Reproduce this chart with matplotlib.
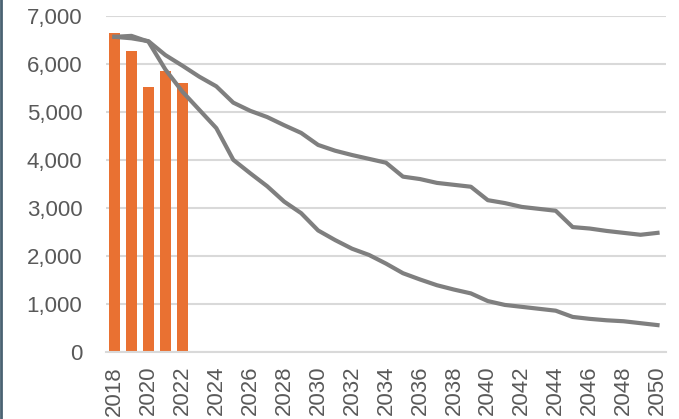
import matplotlib.pyplot as plt
from matplotlib.lines import Line2D

plt.rcParams['font.family'] = ['Liberation Sans', 'DejaVu Sans']

# categories
years = list(range(2018, 2051))

# actual values (bars)
bar_years = [2018, 2019, 2020, 2021, 2022]
bar_values = [6640, 6265, 5515, 5850, 5605]

# projection, slower decline
upper = [6560, 6530, 6470, 6180, 5960, 5730, 5530, 5190, 5020, 4890,
         4720, 4560, 4310, 4190, 4100, 4020, 3940, 3650, 3600, 3520,
         3480, 3440, 3160, 3100, 3020, 2980, 2940, 2600, 2570, 2520,
         2480, 2440, 2480]

# projection, faster decline
lower = [6560, 6580, 6460, 5880, 5420, 5040, 4660, 4000, 3720, 3450,
         3130, 2890, 2530, 2330, 2150, 2020, 1840, 1640, 1510, 1390,
         1300, 1220, 1060, 980, 940, 900, 860, 730, 690, 660,
         640, 600, 560]

fig = plt.figure(figsize=(6.79, 4.19), dpi=100)
ax = fig.add_axes([106 / 679, 67 / 419, 560 / 679, (352 - 15.7) / 419])

xpos = list(range(len(years)))
bar_pos = [years.index(y) for y in bar_years]

ax.bar(bar_pos, bar_values, width=0.65, color='#E97132', zorder=2)
ax.plot(xpos, upper, color='#7f7f7f', linewidth=3, solid_joinstyle='round', zorder=3)
ax.plot(xpos, lower, color='#7f7f7f', linewidth=3, solid_joinstyle='round', zorder=3)

ax.set_xlim(-0.5, len(years) - 0.5)
ax.set_ylim(0, 7000)
ax.set_yticks(range(0, 7001, 1000))
ax.set_yticklabels([f"{v:,}" for v in range(0, 7001, 1000)])
ax.set_xticks(xpos[::2])
ax.set_xticklabels([str(y) for y in years[::2]], rotation=90)

ax.grid(axis='y', color='#d9d9d9', linewidth=1.5, zorder=0)
for s in ['top', 'right', 'left']:
    ax.spines[s].set_visible(False)
ax.spines['bottom'].set_color('#d9d9d9')
ax.spines['bottom'].set_linewidth(1.5)

ax.tick_params(axis='y', length=0, pad=17, labelsize=16, labelcolor='#595959')
ax.tick_params(axis='x', length=0, pad=10, labelsize=16, labelcolor='#595959')

# slide border on the left edge
fig.add_artist(Line2D([0.002, 0.002], [0, 1], transform=fig.transFigure,
                      color='#4a6272', linewidth=2))

fig.savefig('out.png', dpi=100)
